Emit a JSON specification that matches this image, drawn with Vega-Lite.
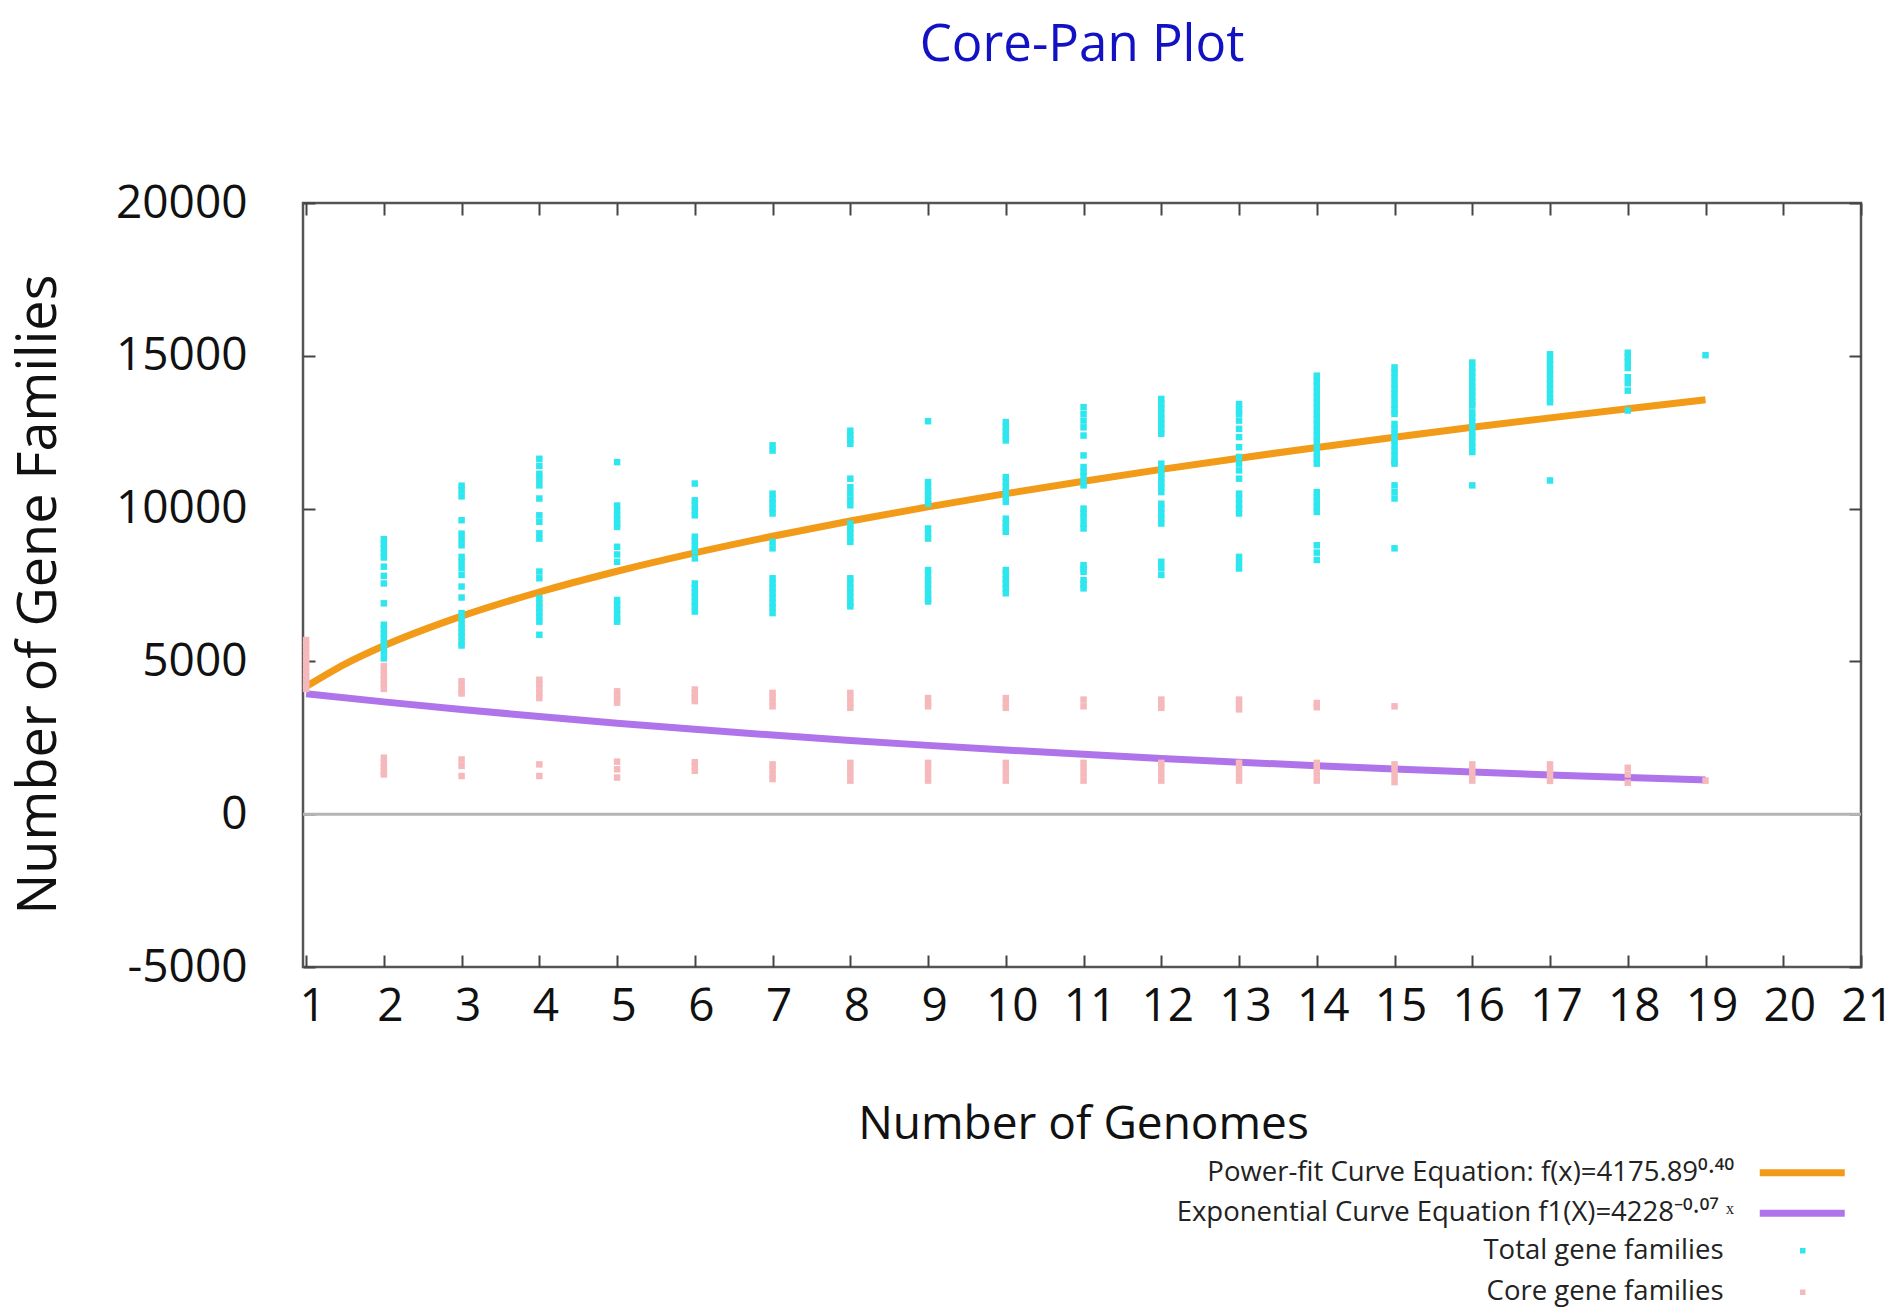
{
  "$schema": "https://vega.github.io/schema/vega-lite/v6.json",
  "autosize": "none",
  "width": 1558,
  "height": 764,
  "padding": {"left": 303, "top": 203, "right": 41, "bottom": 346},
  "background": "white",
  "title": {"text": "Core-Pan Plot", "font": "Open Sans", "fontSize": 51, "fontWeight": "normal", "color": "#1212c4", "anchor": "middle", "frame": "group", "baseline": "alphabetic", "offset": 68},
  "config": {
    "view": {"stroke": "#555555", "strokeWidth": 2.5},
    "axis": {"domain": false, "grid": false, "labelFont": "Open Sans", "labelFontSize": 46, "labelColor": "#111111", "labelFlush": false, "labelOverlap": false, "labelBound": false, "labelExpr": "'' + datum.value", "tickColor": "#444444", "tickWidth": 2, "tickSize": -12, "titleFont": "Open Sans", "titleFontWeight": "normal", "titleColor": "#111111"},
    "legend": {"labelFont": "Open Sans", "labelFontSize": 27.5, "labelColor": "#222222", "labelLimit": 0, "padding": 0, "offset": 0}
  },
  "datasets": {
    "pts": [
      {"genomes":2,"families":9000,"series":"Total gene families"},{"genomes":2,"families":8850,"series":"Total gene families"},{"genomes":2,"families":8700,"series":"Total gene families"},{"genomes":2,"families":8550,"series":"Total gene families"},{"genomes":2,"families":8400,"series":"Total gene families"},{"genomes":2,"families":8100,"series":"Total gene families"},{"genomes":2,"families":7800,"series":"Total gene families"},{"genomes":2,"families":7550,"series":"Total gene families"},{"genomes":2,"families":6900,"series":"Total gene families"},{"genomes":2,"families":6200,"series":"Total gene families"},{"genomes":2,"families":6050,"series":"Total gene families"},{"genomes":2,"families":5900,"series":"Total gene families"},{"genomes":2,"families":5750,"series":"Total gene families"},{"genomes":2,"families":5600,"series":"Total gene families"},{"genomes":2,"families":5450,"series":"Total gene families"},{"genomes":2,"families":5300,"series":"Total gene families"},{"genomes":2,"families":5100,"series":"Total gene families"},
      {"genomes":3,"families":10750,"series":"Total gene families"},{"genomes":3,"families":10600,"series":"Total gene families"},{"genomes":3,"families":10400,"series":"Total gene families"},{"genomes":3,"families":9620,"series":"Total gene families"},{"genomes":3,"families":9180,"series":"Total gene families"},{"genomes":3,"families":9000,"series":"Total gene families"},{"genomes":3,"families":8800,"series":"Total gene families"},{"genomes":3,"families":8420,"series":"Total gene families"},{"genomes":3,"families":8250,"series":"Total gene families"},{"genomes":3,"families":8050,"series":"Total gene families"},{"genomes":3,"families":7830,"series":"Total gene families"},{"genomes":3,"families":7450,"series":"Total gene families"},{"genomes":3,"families":7090,"series":"Total gene families"},{"genomes":3,"families":6580,"series":"Total gene families"},{"genomes":3,"families":6400,"series":"Total gene families"},{"genomes":3,"families":6250,"series":"Total gene families"},{"genomes":3,"families":6100,"series":"Total gene families"},{"genomes":3,"families":5950,"series":"Total gene families"},{"genomes":3,"families":5800,"series":"Total gene families"},{"genomes":3,"families":5650,"series":"Total gene families"},{"genomes":3,"families":5520,"series":"Total gene families"},
      {"genomes":4,"families":11630,"series":"Total gene families"},{"genomes":4,"families":11400,"series":"Total gene families"},{"genomes":4,"families":11140,"series":"Total gene families"},{"genomes":4,"families":10950,"series":"Total gene families"},{"genomes":4,"families":10760,"series":"Total gene families"},{"genomes":4,"families":10330,"series":"Total gene families"},{"genomes":4,"families":9780,"series":"Total gene families"},{"genomes":4,"families":9570,"series":"Total gene families"},{"genomes":4,"families":9190,"series":"Total gene families"},{"genomes":4,"families":9020,"series":"Total gene families"},{"genomes":4,"families":7940,"series":"Total gene families"},{"genomes":4,"families":7720,"series":"Total gene families"},{"genomes":4,"families":7070,"series":"Total gene families"},{"genomes":4,"families":6900,"series":"Total gene families"},{"genomes":4,"families":6750,"series":"Total gene families"},{"genomes":4,"families":6600,"series":"Total gene families"},{"genomes":4,"families":6450,"series":"Total gene families"},{"genomes":4,"families":6300,"series":"Total gene families"},{"genomes":4,"families":5870,"series":"Total gene families"},
      {"genomes":5,"families":11520,"series":"Total gene families"},{"genomes":5,"families":10100,"series":"Total gene families"},{"genomes":5,"families":9950,"series":"Total gene families"},{"genomes":5,"families":9800,"series":"Total gene families"},{"genomes":5,"families":9650,"series":"Total gene families"},{"genomes":5,"families":9500,"series":"Total gene families"},{"genomes":5,"families":9400,"series":"Total gene families"},{"genomes":5,"families":8750,"series":"Total gene families"},{"genomes":5,"families":8500,"series":"Total gene families"},{"genomes":5,"families":8260,"series":"Total gene families"},{"genomes":5,"families":7010,"series":"Total gene families"},{"genomes":5,"families":6850,"series":"Total gene families"},{"genomes":5,"families":6700,"series":"Total gene families"},{"genomes":5,"families":6550,"series":"Total gene families"},{"genomes":5,"families":6400,"series":"Total gene families"},{"genomes":5,"families":6300,"series":"Total gene families"},
      {"genomes":6,"families":10820,"series":"Total gene families"},{"genomes":6,"families":10270,"series":"Total gene families"},{"genomes":6,"families":10120,"series":"Total gene families"},{"genomes":6,"families":9950,"series":"Total gene families"},{"genomes":6,"families":9780,"series":"Total gene families"},{"genomes":6,"families":9080,"series":"Total gene families"},{"genomes":6,"families":8930,"series":"Total gene families"},{"genomes":6,"families":8780,"series":"Total gene families"},{"genomes":6,"families":8600,"series":"Total gene families"},{"genomes":6,"families":8370,"series":"Total gene families"},{"genomes":6,"families":7550,"series":"Total gene families"},{"genomes":6,"families":7400,"series":"Total gene families"},{"genomes":6,"families":7250,"series":"Total gene families"},{"genomes":6,"families":7100,"series":"Total gene families"},{"genomes":6,"families":6950,"series":"Total gene families"},{"genomes":6,"families":6800,"series":"Total gene families"},{"genomes":6,"families":6630,"series":"Total gene families"},
      {"genomes":7,"families":12070,"series":"Total gene families"},{"genomes":7,"families":11900,"series":"Total gene families"},{"genomes":7,"families":10490,"series":"Total gene families"},{"genomes":7,"families":10330,"series":"Total gene families"},{"genomes":7,"families":10170,"series":"Total gene families"},{"genomes":7,"families":10000,"series":"Total gene families"},{"genomes":7,"families":9840,"series":"Total gene families"},{"genomes":7,"families":8910,"series":"Total gene families"},{"genomes":7,"families":8700,"series":"Total gene families"},{"genomes":7,"families":7720,"series":"Total gene families"},{"genomes":7,"families":7560,"series":"Total gene families"},{"genomes":7,"families":7400,"series":"Total gene families"},{"genomes":7,"families":7240,"series":"Total gene families"},{"genomes":7,"families":7080,"series":"Total gene families"},{"genomes":7,"families":6920,"series":"Total gene families"},{"genomes":7,"families":6750,"series":"Total gene families"},{"genomes":7,"families":6580,"series":"Total gene families"},
      {"genomes":8,"families":12550,"series":"Total gene families"},{"genomes":8,"families":12400,"series":"Total gene families"},{"genomes":8,"families":12250,"series":"Total gene families"},{"genomes":8,"families":12120,"series":"Total gene families"},{"genomes":8,"families":10980,"series":"Total gene families"},{"genomes":8,"families":10700,"series":"Total gene families"},{"genomes":8,"families":10500,"series":"Total gene families"},{"genomes":8,"families":10300,"series":"Total gene families"},{"genomes":8,"families":10110,"series":"Total gene families"},{"genomes":8,"families":9510,"series":"Total gene families"},{"genomes":8,"families":9350,"series":"Total gene families"},{"genomes":8,"families":9200,"series":"Total gene families"},{"genomes":8,"families":9050,"series":"Total gene families"},{"genomes":8,"families":8910,"series":"Total gene families"},{"genomes":8,"families":7720,"series":"Total gene families"},{"genomes":8,"families":7560,"series":"Total gene families"},{"genomes":8,"families":7400,"series":"Total gene families"},{"genomes":8,"families":7240,"series":"Total gene families"},{"genomes":8,"families":7080,"series":"Total gene families"},{"genomes":8,"families":6920,"series":"Total gene families"},{"genomes":8,"families":6800,"series":"Total gene families"},
      {"genomes":9,"families":12860,"series":"Total gene families"},{"genomes":9,"families":10870,"series":"Total gene families"},{"genomes":9,"families":10720,"series":"Total gene families"},{"genomes":9,"families":10570,"series":"Total gene families"},{"genomes":9,"families":10420,"series":"Total gene families"},{"genomes":9,"families":10260,"series":"Total gene families"},{"genomes":9,"families":10160,"series":"Total gene families"},{"genomes":9,"families":9350,"series":"Total gene families"},{"genomes":9,"families":9180,"series":"Total gene families"},{"genomes":9,"families":9020,"series":"Total gene families"},{"genomes":9,"families":7990,"series":"Total gene families"},{"genomes":9,"families":7830,"series":"Total gene families"},{"genomes":9,"families":7670,"series":"Total gene families"},{"genomes":9,"families":7510,"series":"Total gene families"},{"genomes":9,"families":7350,"series":"Total gene families"},{"genomes":9,"families":7190,"series":"Total gene families"},{"genomes":9,"families":7030,"series":"Total gene families"},{"genomes":9,"families":6960,"series":"Total gene families"},
      {"genomes":10,"families":12830,"series":"Total gene families"},{"genomes":10,"families":12680,"series":"Total gene families"},{"genomes":10,"families":12530,"series":"Total gene families"},{"genomes":10,"families":12380,"series":"Total gene families"},{"genomes":10,"families":12230,"series":"Total gene families"},{"genomes":10,"families":11030,"series":"Total gene families"},{"genomes":10,"families":10870,"series":"Total gene families"},{"genomes":10,"families":10710,"series":"Total gene families"},{"genomes":10,"families":10550,"series":"Total gene families"},{"genomes":10,"families":10380,"series":"Total gene families"},{"genomes":10,"families":10220,"series":"Total gene families"},{"genomes":10,"families":9670,"series":"Total gene families"},{"genomes":10,"families":9520,"series":"Total gene families"},{"genomes":10,"families":9380,"series":"Total gene families"},{"genomes":10,"families":9240,"series":"Total gene families"},{"genomes":10,"families":7990,"series":"Total gene families"},{"genomes":10,"families":7840,"series":"Total gene families"},{"genomes":10,"families":7690,"series":"Total gene families"},{"genomes":10,"families":7540,"series":"Total gene families"},{"genomes":10,"families":7390,"series":"Total gene families"},{"genomes":10,"families":7230,"series":"Total gene families"},
      {"genomes":11,"families":13320,"series":"Total gene families"},{"genomes":11,"families":13100,"series":"Total gene families"},{"genomes":11,"families":12880,"series":"Total gene families"},{"genomes":11,"families":12660,"series":"Total gene families"},{"genomes":11,"families":12390,"series":"Total gene families"},{"genomes":11,"families":11740,"series":"Total gene families"},{"genomes":11,"families":11360,"series":"Total gene families"},{"genomes":11,"families":11200,"series":"Total gene families"},{"genomes":11,"families":11050,"series":"Total gene families"},{"genomes":11,"families":10900,"series":"Total gene families"},{"genomes":11,"families":10760,"series":"Total gene families"},{"genomes":11,"families":10000,"series":"Total gene families"},{"genomes":11,"families":9850,"series":"Total gene families"},{"genomes":11,"families":9700,"series":"Total gene families"},{"genomes":11,"families":9500,"series":"Total gene families"},{"genomes":11,"families":9350,"series":"Total gene families"},{"genomes":11,"families":8150,"series":"Total gene families"},{"genomes":11,"families":8040,"series":"Total gene families"},{"genomes":11,"families":7930,"series":"Total gene families"},{"genomes":11,"families":7660,"series":"Total gene families"},{"genomes":11,"families":7520,"series":"Total gene families"},{"genomes":11,"families":7390,"series":"Total gene families"},
      {"genomes":12,"families":13590,"series":"Total gene families"},{"genomes":12,"families":13430,"series":"Total gene families"},{"genomes":12,"families":13270,"series":"Total gene families"},{"genomes":12,"families":13100,"series":"Total gene families"},{"genomes":12,"families":12940,"series":"Total gene families"},{"genomes":12,"families":12780,"series":"Total gene families"},{"genomes":12,"families":12610,"series":"Total gene families"},{"genomes":12,"families":12450,"series":"Total gene families"},{"genomes":12,"families":11470,"series":"Total gene families"},{"genomes":12,"families":11300,"series":"Total gene families"},{"genomes":12,"families":11150,"series":"Total gene families"},{"genomes":12,"families":11000,"series":"Total gene families"},{"genomes":12,"families":10850,"series":"Total gene families"},{"genomes":12,"families":10700,"series":"Total gene families"},{"genomes":12,"families":10540,"series":"Total gene families"},{"genomes":12,"families":10160,"series":"Total gene families"},{"genomes":12,"families":10000,"series":"Total gene families"},{"genomes":12,"families":9840,"series":"Total gene families"},{"genomes":12,"families":9670,"series":"Total gene families"},{"genomes":12,"families":9510,"series":"Total gene families"},{"genomes":12,"families":8260,"series":"Total gene families"},{"genomes":12,"families":8050,"series":"Total gene families"},{"genomes":12,"families":7830,"series":"Total gene families"},
      {"genomes":13,"families":13420,"series":"Total gene families"},{"genomes":13,"families":13260,"series":"Total gene families"},{"genomes":13,"families":13100,"series":"Total gene families"},{"genomes":13,"families":12880,"series":"Total gene families"},{"genomes":13,"families":12610,"series":"Total gene families"},{"genomes":13,"families":12340,"series":"Total gene families"},{"genomes":13,"families":12010,"series":"Total gene families"},{"genomes":13,"families":11690,"series":"Total gene families"},{"genomes":13,"families":11470,"series":"Total gene families"},{"genomes":13,"families":11250,"series":"Total gene families"},{"genomes":13,"families":10980,"series":"Total gene families"},{"genomes":13,"families":10490,"series":"Total gene families"},{"genomes":13,"families":10330,"series":"Total gene families"},{"genomes":13,"families":10160,"series":"Total gene families"},{"genomes":13,"families":10000,"series":"Total gene families"},{"genomes":13,"families":9840,"series":"Total gene families"},{"genomes":13,"families":8420,"series":"Total gene families"},{"genomes":13,"families":8230,"series":"Total gene families"},{"genomes":13,"families":8040,"series":"Total gene families"},
      {"genomes":14,"families":14350,"series":"Total gene families"},{"genomes":14,"families":14180,"series":"Total gene families"},{"genomes":14,"families":14000,"series":"Total gene families"},{"genomes":14,"families":13820,"series":"Total gene families"},{"genomes":14,"families":13640,"series":"Total gene families"},{"genomes":14,"families":13460,"series":"Total gene families"},{"genomes":14,"families":13280,"series":"Total gene families"},{"genomes":14,"families":13100,"series":"Total gene families"},{"genomes":14,"families":12920,"series":"Total gene families"},{"genomes":14,"families":12740,"series":"Total gene families"},{"genomes":14,"families":12560,"series":"Total gene families"},{"genomes":14,"families":12380,"series":"Total gene families"},{"genomes":14,"families":12200,"series":"Total gene families"},{"genomes":14,"families":12000,"series":"Total gene families"},{"genomes":14,"families":11820,"series":"Total gene families"},{"genomes":14,"families":11640,"series":"Total gene families"},{"genomes":14,"families":11470,"series":"Total gene families"},{"genomes":14,"families":10540,"series":"Total gene families"},{"genomes":14,"families":10380,"series":"Total gene families"},{"genomes":14,"families":10220,"series":"Total gene families"},{"genomes":14,"families":10060,"series":"Total gene families"},{"genomes":14,"families":9890,"series":"Total gene families"},{"genomes":14,"families":8800,"series":"Total gene families"},{"genomes":14,"families":8560,"series":"Total gene families"},{"genomes":14,"families":8320,"series":"Total gene families"},
      {"genomes":15,"families":14620,"series":"Total gene families"},{"genomes":15,"families":14450,"series":"Total gene families"},{"genomes":15,"families":14280,"series":"Total gene families"},{"genomes":15,"families":14100,"series":"Total gene families"},{"genomes":15,"families":13920,"series":"Total gene families"},{"genomes":15,"families":13750,"series":"Total gene families"},{"genomes":15,"families":13580,"series":"Total gene families"},{"genomes":15,"families":13400,"series":"Total gene families"},{"genomes":15,"families":13250,"series":"Total gene families"},{"genomes":15,"families":13100,"series":"Total gene families"},{"genomes":15,"families":12770,"series":"Total gene families"},{"genomes":15,"families":12600,"series":"Total gene families"},{"genomes":15,"families":12420,"series":"Total gene families"},{"genomes":15,"families":12250,"series":"Total gene families"},{"genomes":15,"families":12070,"series":"Total gene families"},{"genomes":15,"families":11900,"series":"Total gene families"},{"genomes":15,"families":11720,"series":"Total gene families"},{"genomes":15,"families":11550,"series":"Total gene families"},{"genomes":15,"families":11470,"series":"Total gene families"},{"genomes":15,"families":10760,"series":"Total gene families"},{"genomes":15,"families":10540,"series":"Total gene families"},{"genomes":15,"families":10330,"series":"Total gene families"},{"genomes":15,"families":8700,"series":"Total gene families"},
      {"genomes":16,"families":14780,"series":"Total gene families"},{"genomes":16,"families":14620,"series":"Total gene families"},{"genomes":16,"families":14460,"series":"Total gene families"},{"genomes":16,"families":14300,"series":"Total gene families"},{"genomes":16,"families":14140,"series":"Total gene families"},{"genomes":16,"families":13980,"series":"Total gene families"},{"genomes":16,"families":13820,"series":"Total gene families"},{"genomes":16,"families":13660,"series":"Total gene families"},{"genomes":16,"families":13500,"series":"Total gene families"},{"genomes":16,"families":13370,"series":"Total gene families"},{"genomes":16,"families":13150,"series":"Total gene families"},{"genomes":16,"families":12990,"series":"Total gene families"},{"genomes":16,"families":12820,"series":"Total gene families"},{"genomes":16,"families":12660,"series":"Total gene families"},{"genomes":16,"families":12500,"series":"Total gene families"},{"genomes":16,"families":12340,"series":"Total gene families"},{"genomes":16,"families":12170,"series":"Total gene families"},{"genomes":16,"families":12010,"series":"Total gene families"},{"genomes":16,"families":11850,"series":"Total gene families"},{"genomes":16,"families":10760,"series":"Total gene families"},
      {"genomes":17,"families":15050,"series":"Total gene families"},{"genomes":17,"families":14880,"series":"Total gene families"},{"genomes":17,"families":14720,"series":"Total gene families"},{"genomes":17,"families":14560,"series":"Total gene families"},{"genomes":17,"families":14400,"series":"Total gene families"},{"genomes":17,"families":14240,"series":"Total gene families"},{"genomes":17,"families":14080,"series":"Total gene families"},{"genomes":17,"families":13920,"series":"Total gene families"},{"genomes":17,"families":13760,"series":"Total gene families"},{"genomes":17,"families":13600,"series":"Total gene families"},{"genomes":17,"families":13480,"series":"Total gene families"},{"genomes":17,"families":10920,"series":"Total gene families"},
      {"genomes":18,"families":15100,"series":"Total gene families"},{"genomes":18,"families":14950,"series":"Total gene families"},{"genomes":18,"families":14800,"series":"Total gene families"},{"genomes":18,"families":14600,"series":"Total gene families"},{"genomes":18,"families":14300,"series":"Total gene families"},{"genomes":18,"families":14100,"series":"Total gene families"},{"genomes":18,"families":13860,"series":"Total gene families"},{"genomes":18,"families":13210,"series":"Total gene families"},
      {"genomes":19,"families":15020,"series":"Total gene families"},
      {"genomes":1,"families":5700,"series":"Core gene families"},{"genomes":1,"families":5550,"series":"Core gene families"},{"genomes":1,"families":5400,"series":"Core gene families"},{"genomes":1,"families":5250,"series":"Core gene families"},{"genomes":1,"families":5100,"series":"Core gene families"},{"genomes":1,"families":4950,"series":"Core gene families"},{"genomes":1,"families":4800,"series":"Core gene families"},{"genomes":1,"families":4650,"series":"Core gene families"},{"genomes":1,"families":4500,"series":"Core gene families"},{"genomes":1,"families":4350,"series":"Core gene families"},{"genomes":1,"families":4200,"series":"Core gene families"},{"genomes":1,"families":4100,"series":"Core gene families"},
      {"genomes":2,"families":4850,"series":"Core gene families"},{"genomes":2,"families":4700,"series":"Core gene families"},{"genomes":2,"families":4550,"series":"Core gene families"},{"genomes":2,"families":4400,"series":"Core gene families"},{"genomes":2,"families":4250,"series":"Core gene families"},{"genomes":2,"families":4100,"series":"Core gene families"},{"genomes":2,"families":1850,"series":"Core gene families"},{"genomes":2,"families":1700,"series":"Core gene families"},{"genomes":2,"families":1550,"series":"Core gene families"},{"genomes":2,"families":1400,"series":"Core gene families"},{"genomes":2,"families":1300,"series":"Core gene families"},
      {"genomes":3,"families":4350,"series":"Core gene families"},{"genomes":3,"families":4200,"series":"Core gene families"},{"genomes":3,"families":4050,"series":"Core gene families"},{"genomes":3,"families":3950,"series":"Core gene families"},{"genomes":3,"families":1790,"series":"Core gene families"},{"genomes":3,"families":1580,"series":"Core gene families"},{"genomes":3,"families":1250,"series":"Core gene families"},
      {"genomes":4,"families":4400,"series":"Core gene families"},{"genomes":4,"families":4250,"series":"Core gene families"},{"genomes":4,"families":4100,"series":"Core gene families"},{"genomes":4,"families":3950,"series":"Core gene families"},{"genomes":4,"families":3800,"series":"Core gene families"},{"genomes":4,"families":1630,"series":"Core gene families"},{"genomes":4,"families":1250,"series":"Core gene families"},
      {"genomes":5,"families":4020,"series":"Core gene families"},{"genomes":5,"families":3900,"series":"Core gene families"},{"genomes":5,"families":3780,"series":"Core gene families"},{"genomes":5,"families":3650,"series":"Core gene families"},{"genomes":5,"families":1720,"series":"Core gene families"},{"genomes":5,"families":1470,"series":"Core gene families"},{"genomes":5,"families":1200,"series":"Core gene families"},
      {"genomes":6,"families":4080,"series":"Core gene families"},{"genomes":6,"families":3950,"series":"Core gene families"},{"genomes":6,"families":3820,"series":"Core gene families"},{"genomes":6,"families":3700,"series":"Core gene families"},{"genomes":6,"families":1700,"series":"Core gene families"},{"genomes":6,"families":1560,"series":"Core gene families"},{"genomes":6,"families":1420,"series":"Core gene families"},
      {"genomes":7,"families":3970,"series":"Core gene families"},{"genomes":7,"families":3830,"series":"Core gene families"},{"genomes":7,"families":3680,"series":"Core gene families"},{"genomes":7,"families":3530,"series":"Core gene families"},{"genomes":7,"families":1630,"series":"Core gene families"},{"genomes":7,"families":1480,"series":"Core gene families"},{"genomes":7,"families":1300,"series":"Core gene families"},{"genomes":7,"families":1150,"series":"Core gene families"},
      {"genomes":8,"families":3970,"series":"Core gene families"},{"genomes":8,"families":3800,"series":"Core gene families"},{"genomes":8,"families":3640,"series":"Core gene families"},{"genomes":8,"families":3480,"series":"Core gene families"},{"genomes":8,"families":1680,"series":"Core gene families"},{"genomes":8,"families":1500,"series":"Core gene families"},{"genomes":8,"families":1300,"series":"Core gene families"},{"genomes":8,"families":1100,"series":"Core gene families"},
      {"genomes":9,"families":3800,"series":"Core gene families"},{"genomes":9,"families":3650,"series":"Core gene families"},{"genomes":9,"families":3530,"series":"Core gene families"},{"genomes":9,"families":1680,"series":"Core gene families"},{"genomes":9,"families":1500,"series":"Core gene families"},{"genomes":9,"families":1300,"series":"Core gene families"},{"genomes":9,"families":1100,"series":"Core gene families"},
      {"genomes":10,"families":3800,"series":"Core gene families"},{"genomes":10,"families":3640,"series":"Core gene families"},{"genomes":10,"families":3480,"series":"Core gene families"},{"genomes":10,"families":1680,"series":"Core gene families"},{"genomes":10,"families":1500,"series":"Core gene families"},{"genomes":10,"families":1300,"series":"Core gene families"},{"genomes":10,"families":1100,"series":"Core gene families"},
      {"genomes":11,"families":3750,"series":"Core gene families"},{"genomes":11,"families":3530,"series":"Core gene families"},{"genomes":11,"families":1680,"series":"Core gene families"},{"genomes":11,"families":1500,"series":"Core gene families"},{"genomes":11,"families":1300,"series":"Core gene families"},{"genomes":11,"families":1100,"series":"Core gene families"},
      {"genomes":12,"families":3750,"series":"Core gene families"},{"genomes":12,"families":3600,"series":"Core gene families"},{"genomes":12,"families":3480,"series":"Core gene families"},{"genomes":12,"families":1680,"series":"Core gene families"},{"genomes":12,"families":1500,"series":"Core gene families"},{"genomes":12,"families":1300,"series":"Core gene families"},{"genomes":12,"families":1100,"series":"Core gene families"},
      {"genomes":13,"families":3750,"series":"Core gene families"},{"genomes":13,"families":3590,"series":"Core gene families"},{"genomes":13,"families":3430,"series":"Core gene families"},{"genomes":13,"families":1680,"series":"Core gene families"},{"genomes":13,"families":1500,"series":"Core gene families"},{"genomes":13,"families":1300,"series":"Core gene families"},{"genomes":13,"families":1100,"series":"Core gene families"},
      {"genomes":14,"families":3640,"series":"Core gene families"},{"genomes":14,"families":3500,"series":"Core gene families"},{"genomes":14,"families":1680,"series":"Core gene families"},{"genomes":14,"families":1500,"series":"Core gene families"},{"genomes":14,"families":1300,"series":"Core gene families"},{"genomes":14,"families":1100,"series":"Core gene families"},
      {"genomes":15,"families":3530,"series":"Core gene families"},{"genomes":15,"families":1630,"series":"Core gene families"},{"genomes":15,"families":1450,"series":"Core gene families"},{"genomes":15,"families":1250,"series":"Core gene families"},{"genomes":15,"families":1050,"series":"Core gene families"},
      {"genomes":16,"families":1630,"series":"Core gene families"},{"genomes":16,"families":1450,"series":"Core gene families"},{"genomes":16,"families":1250,"series":"Core gene families"},{"genomes":16,"families":1100,"series":"Core gene families"},
      {"genomes":17,"families":1630,"series":"Core gene families"},{"genomes":17,"families":1450,"series":"Core gene families"},{"genomes":17,"families":1250,"series":"Core gene families"},{"genomes":17,"families":1090,"series":"Core gene families"},
      {"genomes":18,"families":1520,"series":"Core gene families"},{"genomes":18,"families":1300,"series":"Core gene families"},{"genomes":18,"families":1030,"series":"Core gene families"},
      {"genomes":19,"families":1100,"series":"Core gene families"}
    ],
    "curves": [
      {"genomes":1,"families":4176,"curve":"Power-fit Curve Equation: f(x)=4175.89⁰·⁴⁰"},
      {"genomes":1.5,"families":4911,"curve":"Power-fit Curve Equation: f(x)=4175.89⁰·⁴⁰"},
      {"genomes":2,"families":5510,"curve":"Power-fit Curve Equation: f(x)=4175.89⁰·⁴⁰"},
      {"genomes":3,"families":6480,"curve":"Power-fit Curve Equation: f(x)=4175.89⁰·⁴⁰"},
      {"genomes":4,"families":7271,"curve":"Power-fit Curve Equation: f(x)=4175.89⁰·⁴⁰"},
      {"genomes":5,"families":7950,"curve":"Power-fit Curve Equation: f(x)=4175.89⁰·⁴⁰"},
      {"genomes":6,"families":8551,"curve":"Power-fit Curve Equation: f(x)=4175.89⁰·⁴⁰"},
      {"genomes":7,"families":9095,"curve":"Power-fit Curve Equation: f(x)=4175.89⁰·⁴⁰"},
      {"genomes":8,"families":9594,"curve":"Power-fit Curve Equation: f(x)=4175.89⁰·⁴⁰"},
      {"genomes":9,"families":10056,"curve":"Power-fit Curve Equation: f(x)=4175.89⁰·⁴⁰"},
      {"genomes":10,"families":10489,"curve":"Power-fit Curve Equation: f(x)=4175.89⁰·⁴⁰"},
      {"genomes":11,"families":10897,"curve":"Power-fit Curve Equation: f(x)=4175.89⁰·⁴⁰"},
      {"genomes":12,"families":11283,"curve":"Power-fit Curve Equation: f(x)=4175.89⁰·⁴⁰"},
      {"genomes":13,"families":11650,"curve":"Power-fit Curve Equation: f(x)=4175.89⁰·⁴⁰"},
      {"genomes":14,"families":12001,"curve":"Power-fit Curve Equation: f(x)=4175.89⁰·⁴⁰"},
      {"genomes":15,"families":12336,"curve":"Power-fit Curve Equation: f(x)=4175.89⁰·⁴⁰"},
      {"genomes":16,"families":12659,"curve":"Power-fit Curve Equation: f(x)=4175.89⁰·⁴⁰"},
      {"genomes":17,"families":12969,"curve":"Power-fit Curve Equation: f(x)=4175.89⁰·⁴⁰"},
      {"genomes":18,"families":13270,"curve":"Power-fit Curve Equation: f(x)=4175.89⁰·⁴⁰"},
      {"genomes":19,"families":13560,"curve":"Power-fit Curve Equation: f(x)=4175.89⁰·⁴⁰"},
      {"genomes":1,"families":3942,"curve":"Exponential Curve Equation f1(X)=4228⁻⁰·⁰⁷ ˣ"},
      {"genomes":2,"families":3676,"curve":"Exponential Curve Equation f1(X)=4228⁻⁰·⁰⁷ ˣ"},
      {"genomes":3,"families":3427,"curve":"Exponential Curve Equation f1(X)=4228⁻⁰·⁰⁷ ˣ"},
      {"genomes":4,"families":3195,"curve":"Exponential Curve Equation f1(X)=4228⁻⁰·⁰⁷ ˣ"},
      {"genomes":5,"families":2979,"curve":"Exponential Curve Equation f1(X)=4228⁻⁰·⁰⁷ ˣ"},
      {"genomes":6,"families":2778,"curve":"Exponential Curve Equation f1(X)=4228⁻⁰·⁰⁷ ˣ"},
      {"genomes":7,"families":2590,"curve":"Exponential Curve Equation f1(X)=4228⁻⁰·⁰⁷ ˣ"},
      {"genomes":8,"families":2415,"curve":"Exponential Curve Equation f1(X)=4228⁻⁰·⁰⁷ ˣ"},
      {"genomes":9,"families":2252,"curve":"Exponential Curve Equation f1(X)=4228⁻⁰·⁰⁷ ˣ"},
      {"genomes":10,"families":2100,"curve":"Exponential Curve Equation f1(X)=4228⁻⁰·⁰⁷ ˣ"},
      {"genomes":11,"families":1958,"curve":"Exponential Curve Equation f1(X)=4228⁻⁰·⁰⁷ ˣ"},
      {"genomes":12,"families":1825,"curve":"Exponential Curve Equation f1(X)=4228⁻⁰·⁰⁷ ˣ"},
      {"genomes":13,"families":1702,"curve":"Exponential Curve Equation f1(X)=4228⁻⁰·⁰⁷ ˣ"},
      {"genomes":14,"families":1587,"curve":"Exponential Curve Equation f1(X)=4228⁻⁰·⁰⁷ ˣ"},
      {"genomes":15,"families":1480,"curve":"Exponential Curve Equation f1(X)=4228⁻⁰·⁰⁷ ˣ"},
      {"genomes":16,"families":1380,"curve":"Exponential Curve Equation f1(X)=4228⁻⁰·⁰⁷ ˣ"},
      {"genomes":17,"families":1286,"curve":"Exponential Curve Equation f1(X)=4228⁻⁰·⁰⁷ ˣ"},
      {"genomes":18,"families":1199,"curve":"Exponential Curve Equation f1(X)=4228⁻⁰·⁰⁷ ˣ"},
      {"genomes":19,"families":1118,"curve":"Exponential Curve Equation f1(X)=4228⁻⁰·⁰⁷ ˣ"}
    ]
  },
  "resolve": {"axis": {"x": "independent", "y": "independent"}},
  "layer": [
    {
      "data": {"values": [{}]},
      "mark": {"type": "rule", "color": "#b4b4b4", "strokeWidth": 3},
      "encoding": {"y": {"datum": 0, "type": "quantitative", "scale": {"domain": [-5000, 20000], "nice": false, "zero": false}, "axis": null}}
    },
    {
      "data": {"name": "curves"},
      "mark": {"type": "line", "strokeWidth": 7, "interpolate": "monotone", "strokeCap": "butt"},
      "encoding": {
        "x": {"field": "genomes", "type": "quantitative", "scale": {"domain": [0.96, 21], "nice": false, "zero": false}, "axis": {"orient": "top", "values": [1,2,3,4,5,6,7,8,9,10,11,12,13,14,15,16,17,18,19,20,21], "labels": false, "title": null}},
        "y": {"field": "families", "type": "quantitative", "scale": {"domain": [-5000, 20000], "nice": false, "zero": false}, "axis": {"orient": "right", "values": [-5000, 0, 5000, 10000, 15000, 20000], "labels": false, "title": null}},
        "stroke": {"field": "curve", "type": "nominal", "sort": null,
          "scale": {"domain": ["Power-fit Curve Equation: f(x)=4175.89⁰·⁴⁰", "Exponential Curve Equation f1(X)=4228⁻⁰·⁰⁷ ˣ"], "range": ["#f29b18", "#b074ea"]},
          "legend": {"orient": "none", "legendX": 1485.5, "legendY": 956, "title": null, "symbolType": "M-5,0L5,0", "symbolSize": 289, "symbolStrokeWidth": 7, "labelAlign": "right", "labelOffset": -82, "rowPadding": 11.5}},
        "detail": {"field": "curve"}
      }
    },
    {
      "data": {"name": "pts"},
      "mark": {"type": "square", "size": 42, "opacity": 1, "filled": true},
      "encoding": {
        "x": {"field": "genomes", "type": "quantitative", "axis": {"orient": "bottom", "values": [1,2,3,4,5,6,7,8,9,10,11,12,13,14,15,16,17,18,19,20,21], "labelPadding": 29.5, "labelOffset": 6, "title": "Number of Genomes", "titleFontSize": 46, "titleX": 780, "titleY": 171, "titleBaseline": "alphabetic", "titleAlign": "center"}},
        "y": {"field": "families", "type": "quantitative", "axis": {"orient": "left", "values": [-5000, 0, 5000, 10000, 15000, 20000], "labelPadding": 68, "title": "Number of Gene Families", "titleFontSize": 54, "titleAngle": 270, "titleX": -248, "titleY": 391, "titleBaseline": "alphabetic", "titleAlign": "center"}},
        "fill": {"field": "series", "type": "nominal", "sort": null,
          "scale": {"domain": ["Total gene families", "Core gene families"], "range": ["#2ee6ee", "#f5b8bb"]},
          "legend": {"orient": "none", "legendX": 1486, "legendY": 1034, "title": null, "symbolType": "square", "symbolSize": 30, "symbolStrokeWidth": 0, "labelAlign": "right", "labelOffset": -93, "rowPadding": 12.5}}
      }
    }
  ]
}
